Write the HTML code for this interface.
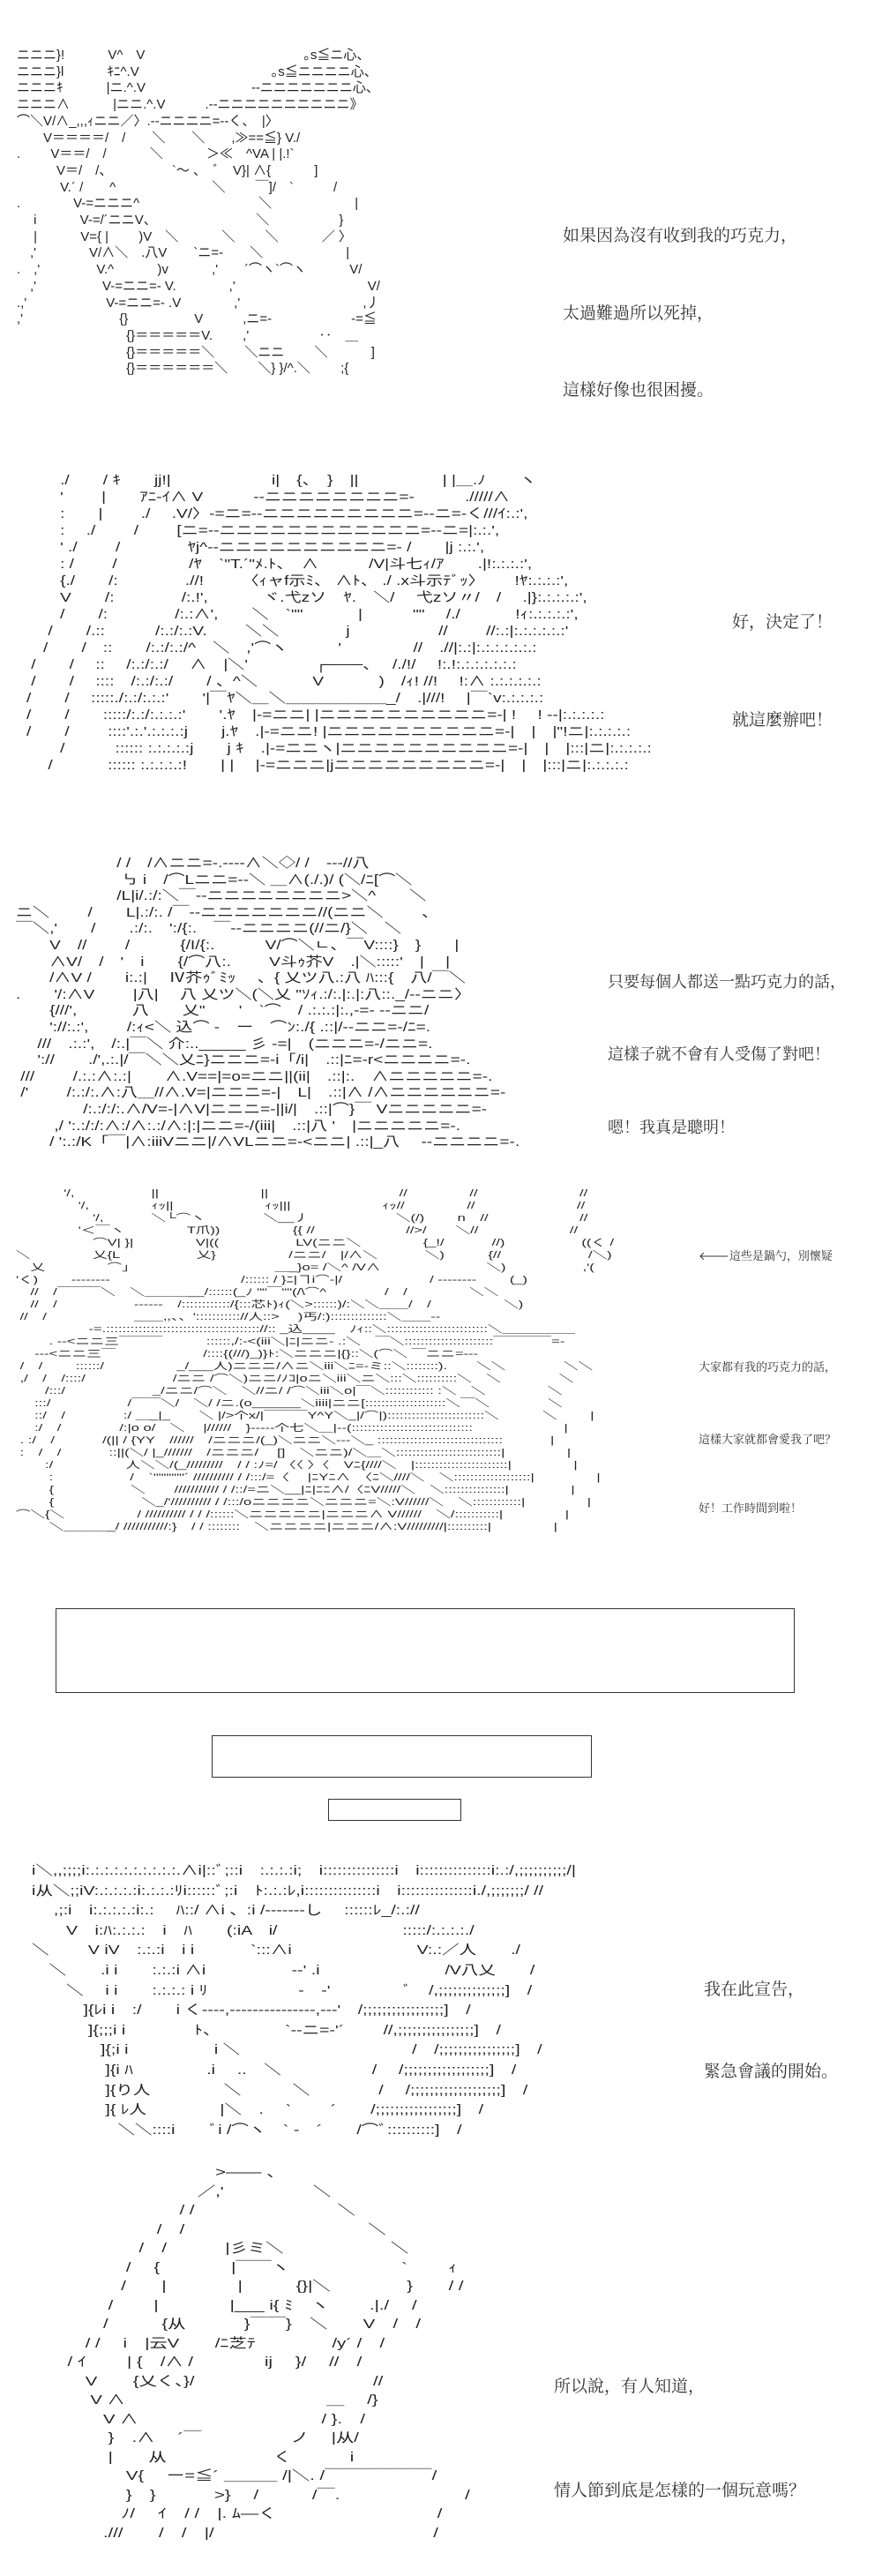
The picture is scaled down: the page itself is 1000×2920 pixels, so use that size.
<!DOCTYPE html>
<html><head><meta charset="utf-8">
<style>
html,body{margin:0;padding:0;background:#fff;}
body{width:1000px;height:2920px;position:relative;overflow:hidden;}
.a{position:absolute;margin:0;white-space:pre;font-family:"Liberation Sans","Noto Sans CJK JP",sans-serif;color:#222;transform-origin:0 0;}
.l{position:absolute;margin:0;white-space:pre;font-family:"Liberation Serif","Noto Serif CJK SC",serif;color:#333;}
.box{position:absolute;border:1.5px solid #333;}
</style></head><body>

<pre class="a" style="left:19px;top:54px;font-size:15px;line-height:18.7px;">ニニニ}!　　　 V^　V　　　　　　　　　　　　｡s≦ニ心、
ニニニ}l　　　 ｷﾆ^.V　　　　　　　　　　｡s≦ニニニニ心、
ニニニｷ　　　 |ニ.^.V　　　　　　　　-‐ニニニニニニニ心、
ニニニ∧　　　 |ニニ.^.V　　　.-‐ニニニニニニニニニニ》
⌒＼V/∧_,,,ｨニニ／〉.-‐ニニニニ=‐-く、　|〉
　　V＝＝＝＝/　/　　＼　　＼　　,≫==≦} V./
.　　 V＝＝/　/　　　 ＼　　　 ＞≪　^VA | |.!`
　　　V＝/　/、　　　　　`～ 、　ﾞ　V}| ∧{　　　 ]
　　　 V.´ /　　^　　　　　　　 ＼　　 ￣]/　`　　　/
.　　　　V-=ニニニ^　　　　　　　　　＼　　　　　　 |
　 i　　　 V-=/´ニニV、　　　　　　　　＼　　　　　 }
　 |　　　 V={ |　　 )V　＼　　　 ＼　　 ＼　　　 ／ 〉
　,'　　　　V/∧＼　.八V　　`ニ=-　　＼　　　　　　 |
.　,'　　　　 V.^　　　 )v　　　 ,'　　´⌒ヽ`⌒ヽ　　　 V/
　,'　　　　　V-=ニニ=- V.　　　　,'　　　　　　　　　　V/
.,'　　　　　　V-=ニニ=- .V　　　　,'　　　　　　　　　 ,丿
,'　　　　　　　 {}　　　　　V　　　,ニ=-　　　　　　-=≦
　　　　　　　　 {}＝＝＝＝＝V.　　 ,'　　　　　 ‥　＿
　　　　　　　　 {}＝＝＝＝＝＼　　 ＼ニニ　　 ＼　　　 ]
　　　　　　　　 {}＝＝＝＝＝＝＼　　 ＼} }/^.＼　　 ;{</pre>
<div class="l" style="left:638px;top:252px;font-size:19px;">如果因為沒有收到我的巧克力，</div>
<div class="l" style="left:638px;top:340px;font-size:19px;">太過難過所以死掉，</div>
<div class="l" style="left:638px;top:427px;font-size:19px;">這樣好像也很困擾。</div>

<pre class="a" style="left:30px;top:535px;font-size:15px;line-height:19px;transform:scaleX(1.27);">　　./　　/ ｷ　　jj!|　　　　　　i|　{、　}　||　　　　　| |＿.ﾉ　　ヽ
　　'　　 |　　ｱﾆ-ｲ∧ V　　　-‐ニニニニニニニニ=-　　　./////∧
　　:　　|　　 ./　 .V/〉-=ニ=-‐ニニニニニニニニニ=-‐ニ=-く///ｲ:.:',
　　:　 ./　　 /　　 [ニ=-‐ニニニニニニニニニニニニ=-‐ニ=|:.:.',
　　' ./　　 /　　　　ﾔj^-‐ニニニニニニニニニニ=- /　　|j :.:.',
　　: /　　 /　　　　 /ﾔ　`"T.´"ﾒ.ﾄ、　∧　　　/V|斗七ｨ/ｱ　　.|!:.:.:.:',
　　{./　　/:　　　　.//!　　 〈ｨャf示ﾐ、 ∧ﾄ、 ./ .x斗示ﾃﾞｯ〉　　 !ﾔ:.:.:.:',
　　V　　/:　　　　/:.!',　　　 ヾ.弋zソ　ﾔ.　＼/　 弋zソ〃/　/　 .|}:.:.:.:.:',
　　/　　/:　　　　/:.:∧',　　＼　`""　　　 |　　　""　 /./　　　 !ｨ:.:.:.:.:',
　 /　　/.::　　　/:.:/:.:V.　　 ＼＼　　　　j　　　　　 //　　 //:.:|:.:.:.:.:.:'
　/　　/　::　　/:.:/:.:/^　＼　,'⌒ヽ　　　'　　　　 //　.//|:.:|:.:.:.:.:.:.:
 /　　/　 ::　 /:.:/:.:/　 ∧　|＼'　　　　┌───、　 /./!/　 !:.!:.:.:.:.:.:.:
 /　　/　 ::::　/:.:/:.:/　　/ 、^＼　　　 V　　　 )　/ｨ! //!　 !:∧ :.:.:.:.:.:
/　　/　 :::::./:.:/:.:.:'　　'|￣ﾔ＼＿＼＿＿＿＿＿＿_/　.|///!　 |￣`v:.:.:.:.:
/　　/　　:::::/:.:/:.:.:.:'　　'.ﾔ　|-=ニニ| |ニニニニニニニニニニ=-| !　 ! --|:.:.:.:.:
/　　/　　 ::::'.:.'.:.:.:.:j　　j.ﾔ　.|-=ニニ! |ニニニニニニニニニニ=-|　|　|"!ニ|:.:.:.:.:
　　/　　　:::::: :.:.:.:.:j　　j ｷ　.|-=ニニヽ|ニニニニニニニニニニ=-|　|　|:::|ニ|:.:.:.:.:
　 /　　　 :::::: :.:.:.:.:!　　| |　 |-=ニニニ|jニニニニニニニニニ=-|　|　|:::|ニ|:.:.:.:.:</pre>
<div class="l" style="left:830px;top:690px;font-size:19px;">好，決定了！</div>
<div class="l" style="left:830px;top:801px;font-size:19px;">就這麼辦吧！</div>

<pre class="a" style="left:18px;top:970px;font-size:15px;line-height:18.6px;transform:scaleX(1.27);">　　　　　　/ /　/∧ニニ=-.----∧＼◇/ /　---//八
　　　　　　 ㇉ i　/⌒Lニニ=--＼ ＿∧(./.)/ (＼/ﾆ[⌒＼
　　　　　　/L|i/.:/:＼￣-‐ニニニニニニニニ>＼^　　＼
ニ＼　　 /　　L|.:/:. /￣-‐ニニニニニニニ//(ニニ＼　　 、
￣＼,'　　/　　.:/:.　':/{:.　￣-‐ニニニニ(//ニ/}＼　＼
　　V　//　　 /　　　{/I/{:.　　　V/⌒＼ㄴ、￣V::::}　}　　|
　　∧V/　/　'　i　　{/⌒八:.　　 V斗ｩ芥V　.|＼:::::'　|　 |
　　/∧V /　　i:.:|　 Ⅳ芥ｩﾞﾐｯ　 、{ 乂ツ八.:八 ﾊ:::{　八/￣＼
.　　'/:∧V　　 |八|　 八 乂ツ＼(＼乂 "ｿｨ.:/:.|:.|:八::._/-‐ニニ〉
　　{///',　　　 八　　乂"　　'　`⌒　/ .:.:.:|:.,-=- -‐ニニ/
　　'://:.:',　　 /:ｨ<＼ 込⌒ -　ー　⌒ﾝ:./{ .::|/-‐ニニ=-/ﾆ=.
　 ///　.:.:',　/:.|￣＼ 介:.._____ 彡 -=|　(ニニニ=-/ニニ=.
　 '://　　./',.:.|/￣＼＼乂ﾆ}ニニニ=-i「/i|　.::|ﾆ=-r<ニニニニ=-.
 ///　　 /.:.:∧:.:|　　∧.V==|=o=ニニ||(ii|　.::|:.　∧ニニニニニ=-.
 /'　　 /:.:/:.∧:八＿//∧.V=|ニニニ=-|　L|　.::|∧ /∧ニニニニニニ=-
　　　　/:.:/:/:.∧/V=-|∧V|ニニニ=-||i/|　.::|⌒}￣ Vニニニニニ=-
　　 ,/ ':.:/:/:∧:/∧:.:/∧:|:|ニニ=-/(iii|　.::|八 '　|ニニニニニ=-.
　　/ ':.:/K「￣|∧:iiiVニニ|/∧VLニニ=-<ニニ| .::|_八　 -‐ニニニニ=-.</pre>
<div class="l" style="left:689px;top:1099px;font-size:18px;">只要每個人都送一點巧克力的話，</div>
<div class="l" style="left:689px;top:1181px;font-size:18px;">這樣子就不會有人受傷了對吧！</div>
<div class="l" style="left:689px;top:1264px;font-size:18px;">嗯！我真是聰明！</div>

<pre class="a" style="left:18px;top:1346px;font-size:11px;line-height:14px;transform:scaleX(1.5);">　　　 '/,　　　　　 ||　　　　　　　||　　　　　　　　　//　　　　 //　　　　　　　//
　　　　 '/,　　　　 ｨｯ||　　　　　　 ｨｯ|||　　　　　　 ｨｯ//　　　　 //　　　　　　　//
　　　　　 '/,　　　 ＼└⌒ヽ　　　　＼__丿　　　　　　＼(/)　　 n　//　　　　　　 //
　　　　 '＜￣ヽ　　　　 T爪))　　　　　{{ //　　　　　　 //>/　　＼//　　　　　　 //
　　　　　 ⌒V| }|　　　　 V|((　　　　　 LV(ニニ＼　　　　 {_!/　　　 //)　　　　　 ((く /
＼　　　　 乂{L　　　　　 乂}　　　　　/ニニ/　|/∧＼　　　 ＼)　　　{//　　　　　　/＼)
　乂　　　　 ⌒」　　　　　　　　　　＿_}o= /＼^ /V∧　　　　　　　 ＼)　　　　　 ,'(
'く)　　 --------　　　　　　　　　/:::::: / }ﾆ|ヿi⌒-|/　　　　　　/ --------　　 (_)
　//　/￣￣￣＼　＼＿＿＿__/::::::(_ﾉ ""￣""(/\⌒^　　　　/　/　　　　 ＼＼
　//　/　　　　　 ------　/::::::::::::/{:::芯ﾄ)ｨ(＼>::::::)/:＼＼＿＿/　/　　　　　＼)
 //　/　　　　　　＿＿,,、、'::::::::::://人::>　 )丐/:)::::::::::::::＼＿＿--
　　　　　-=.:::::::::::::::::::::::::::::::::::::://:: _込____　ﾉｨ::＼:::::::::::::::::::::::::＼＿＿＿＿＿
　　 . --<ニニ三￣￣￣　　　::::::,/:-<(iii＼|ﾆ|ニニ- .:＼　￣＼::::::::::::::::::::::￣￣￣￣=-
　 ---<ニニ三￣　　　　　　/::::{(///)_)}ﾄ:＼ニニニ|{}::＼(⌒＼ ￣ニニ=---
 /　/　　 ::::::/　　　　　_/___人)ニニニ/∧ニ＼iii＼ﾆ=-ミ::＼::::::::).　　＼＼　　　　＼＼
 ,/　/　/::::/　　　　　　/ニニ /⌒＼)ニニ/ﾉｺ|oニ＼iii＼ニ＼:::＼::::::::::＼　＼　　　　＼
　　/:::/　　　　　　_/ニニ/⌒＼　＼//ニ/ /⌒＼iii＼o|￣＼:::::::::::: :＼　＼　　　　 ＼
　 :::/　　　　　 /￣￣＼/　＼/ /ニ.(o______＼iiii|ニニ[::::::::::::::::::::＼￣＼　　　　＼
　 ::/　/　　　　:/ ＿_|_　　＼ |/>个x/|￣￣￣Y^Y＼_|/⌒|)::::::::::::::::::::::::＼　　　＼　　 |
　 :/　/　　　　/:|o o/　＼　 |//////　}-----个七＼＿|--(::::::::::::::::::::::::::::::　　　　　　 |
 . :/　/　　　 /(|| / {YY　//////　/ニニニ/(_)＼ニニ＼---＼_ :::::::::::::::::::::::::::::::　　　 |
 :　/　/　　　 ::||(＼/ |_///////　/ニニニ/　 []　＼ニニ)/＼＿＼::::::::::::::::::::::::::|　　　　 |
　　:/　　　　　人＼＼/(_/////////　/ / :ﾉ=/ 〈〈 〉〈　Vﾆ{////＼　|:::::::::::::::::::::::|　　　　 |
　　 :　　　　　 /　`""""""´ ////////// / /:::/=〈　 |ﾆYﾆ∧　〈ﾆ＼////＼　＼:::::::::::::::::::|　　　　 |
　　 {　　　　　 ＼　　/////////// / /::/=ニ＼__|ﾆ|ﾆﾆ∧/〈ﾆV/////＼　＼:::::::::::::::|　　　　 |
　　 {　　　　　　＼_/'////////// / /:::/oニニニニ＼ニニニ=＼:V//////＼　＼::::::::::::|　　　　 |
⌒＼{＼　　　　　/ ////////// / / /::::::＼ニニニニニ|ニニニ∧ V//////　＼/:::::::::::|　　　　 |
　　 ＼＿＿＿_/ ///////////:}　/ / ::::::::　＼ニニニニ|ニニニ/∧:V/////////|::::::::::|　　　　 |</pre>
<div class="l" style="left:792px;top:1413px;font-size:13px;">🡐這些是鍋勺，別懷疑</div>
<div class="l" style="left:792px;top:1539px;font-size:13px;">大家都有我的巧克力的話，</div>
<div class="l" style="left:792px;top:1621px;font-size:13px;">這樣大家就都會愛我了吧？</div>
<div class="l" style="left:792px;top:1699px;font-size:13px;">好！工作時間到啦！</div>

<div class="box" style="left:63px;top:1823px;width:836px;height:94px;"></div>
<div class="box" style="left:240px;top:1967px;width:429px;height:46px;"></div>
<div class="box" style="left:372px;top:2039px;width:149px;height:23px;"></div>

<pre class="a" style="left:36px;top:2110px;font-size:15px;line-height:22.6px;transform:scaleX(1.3);">i＼,,;;;;i:.:.:.:.:.:.:.:.:.:.∧i|::ﾞ;::i　:.:.:.:i;　i:::::::::::::::i　i:::::::::::::::i:.:/,;;;;;;;;;;/|
i从＼;;iV:.:.:.:.:i:.:.:.:ﾘi::::::ﾞ;:i　ﾄ:.:.:ﾚ,i:::::::::::::::i　i:::::::::::::::i./,;;;;;;;/ //
　 ,;:i　i:.:.:.:.:i:.:　 ﾊ::/ ∧i 、:i /-------し　 ::::::ﾚ_/:.://
　　V　i:ﾊ:.:.:.:　i　ﾊ　　(:iA　i/　　　　　　　 :::::/:.:.:.:./
＼　　 V iV　:.:.:i　i i　　　 `:::∧i　　　　　　　 V:.:／人　　./
　＼　　.i i　　:.:.:i ∧i　　　　　-‐' .i　　　　　　　 /V八乂　　/
　　＼　 i i　　:.:.:.: i ﾘ　　　　　 ‐　‐'　　　　 ﾞ　/,;;;;;;;;;;;;;;]　/
　　　]{ﾚi i　:/　　i く----,---------------,---'　/;;;;;;;;;;;;;;;;;]　/
　　　 ]{;;;i i　　　　ﾄ、　　　　 `-‐ニ=-'´　　 //,;;;;;;;;;;;;;;;;]　/
　　　　]{;i i　　　　　i ＼　　　　　　　　　　/　/;;;;;;;;;;;;;;;;]　/
　　　　 ]{i ﾊ　　　　 .i　 ..　＼　　　　　 /　 /;;;;;;;;;;;;;;;;;;]　/
　　　　 ]{り人　　　　 ＼　　　＼　　　　/　 /;;;;;;;;;;;;;;;;;;;]　/
　　　　 ]{ ﾚ人　　　　 |＼　.　 `　　 ´　　/;;;;;;;;;;;;;;;;;]　/
　　　　　＼＼::::i　　ﾞi /⌒ヽ　` -　´　　/⌒ﾞ::::::::::]　/</pre>
<div class="l" style="left:798px;top:2240px;font-size:19px;">我在此宣告，</div>
<div class="l" style="left:798px;top:2333px;font-size:19px;">緊急會議的開始。</div>

<pre class="a" style="left:36px;top:2452px;font-size:15px;line-height:21.5px;transform:scaleX(1.35);">　　　　　　　　　　 >―― 、
　　　　　　　　　 ／,'　　　　　＼
　　　　　　　　 / /　　　　　　　　＼
　　　　　　　/　/　　　　　　　　　　 ＼
　　　　　　/　/　　　 |彡ミ＼　　　　　　＼
　　　　　 /　 {　　　　|￣￣ヽ　　　　　　 `　　 ｨ
　　　　　/　　|　　　　|　　　{}|＼　　　　 }　　/ /
　　　　 /　　 |　　　　|___ i{ ﾐ　ヽ　　 .|./　 /
　　　　/　　　{从　　　 }￣￣}　＼　　V　/　/
　　　/ /　 i　|云V　　/ﾆ芝ﾃ　　　　 /y´ /　/
　　/ ｲ　　 | {　/∧ /　　　　ij　 }/　 //　/
　　　V　　{乂く、}/　　　　　　　　　　//
　　　 V ∧　　　　　　　　　　　 ＿　 /}
　　　　V ∧　　　　　　　　　　 / }.　/
　　　　 }　.∧　 ´￣　　　　　ノ　 |从/
　　　　 |　　从　　　　　　く　　　 i
　　　　　 V{　 ー=≦´ ＿＿＿ /|＼. /￣￣￣￣￣￣/
　　　　　 }　}　　　 >}　 /　　　/￣.　　　　　　　/
　　　　　ﾉ/　 ｲ　/ /　|. ﾑ―く　　　　　　　　　/
　　　　.///　　/　/　|/　　　　　　　　　　　　 /</pre>
<div class="l" style="left:628px;top:2690px;font-size:19px;">所以說，有人知道，</div>
<div class="l" style="left:628px;top:2808px;font-size:19px;">情人節到底是怎樣的一個玩意嗎？</div>

</body></html>
